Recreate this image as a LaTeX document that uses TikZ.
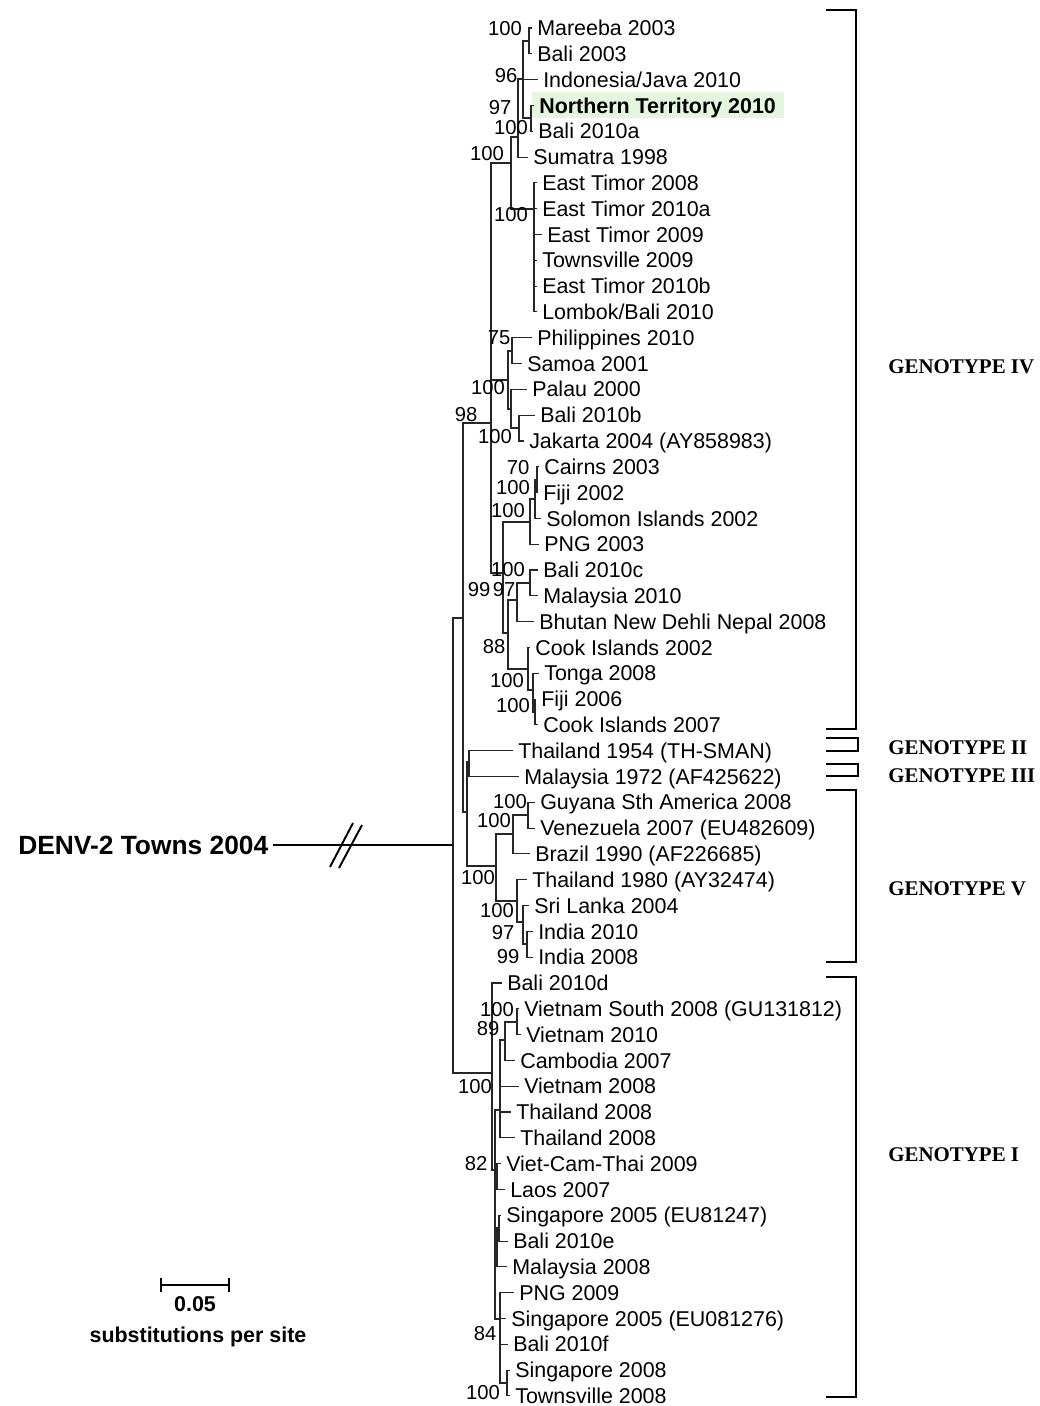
\documentclass[tikz,border=0pt]{standalone}
\usepackage{fontspec}
\setmainfont{Liberation Sans}
\newfontfamily\genofont{Liberation Serif}
\definecolor{ntgreen}{RGB}{229,246,223}

\begin{document}
\begin{tikzpicture}[x=0.02cm,y=-0.02cm,
    branch/.style={line width=0.6pt,black!85},
    leaf/.style={anchor=west,inner xsep=2.8pt,inner ysep=0pt,text height=8.7pt,text depth=0pt,font=\fontsize{12.2}{14}\selectfont},
    boot/.style={inner sep=0pt,text height=8.2pt,text depth=0pt,font=\fontsize{11.5}{13}\selectfont},
    geno/.style={anchor=west,inner sep=0pt,text height=7.9pt,text depth=0pt,font=\genofont\bfseries\fontsize{11.9}{14}\selectfont},
    bracket/.style={line width=1.2pt}]
    \useasboundingbox (0,0) rectangle (1039,1406);

    \fill[ntgreen] (532,92) rectangle (784,118);

    % genotype IV
    \node[leaf] (l1) at (532,28.0) {Mareeba 2003};
    \node[leaf] (l2) at (532,53.8) {Bali 2003};
    \node[leaf] (l3) at (538,79.6) {Indonesia/Java 2010};
    \node[leaf] (l4) at (534,105.4) {\bfseries Northern Territory 2010};
    \node[leaf] (l5) at (533,131.2) {Bali 2010a};
    \node[leaf] (l6) at (528,157.1) {Sumatra 1998};
    \node[leaf] (l7) at (537,182.9) {East Timor 2008};
    \node[leaf] (l8) at (537,208.7) {East Timor 2010a};
    \node[leaf] (l9) at (542,234.5) {East Timor 2009};
    \node[leaf] (l10) at (537,260.3) {Townsville 2009};
    \node[leaf] (l11) at (537,286.1) {East Timor 2010b};
    \node[leaf] (l12) at (537,311.9) {Lombok/Bali 2010};
    \node[leaf] (l13) at (532,337.7) {Philippines 2010};
    \node[leaf] (l14) at (522,363.5) {Samoa 2001};
    \node[leaf] (l15) at (527,389.3) {Palau 2000};
    \node[leaf] (l16) at (535,415.2) {Bali 2010b};
    \node[leaf] (l17) at (524,441.0) {Jakarta 2004 (AY858983)};
    \node[leaf] (l18) at (539,466.8) {Cairns 2003};
    \node[leaf] (l19) at (538,492.6) {Fiji 2002};
    \node[leaf] (l20) at (541,518.4) {Solomon Islands 2002};
    \node[leaf] (l21) at (539,544.2) {PNG 2003};
    \node[leaf] (l22) at (538,570.0) {Bali 2010c};
    \node[leaf] (l23) at (538,595.8) {Malaysia 2010};
    \node[leaf] (l24) at (534,621.6) {Bhutan New Dehli Nepal 2008};
    \node[leaf] (l25) at (530,647.4) {Cook Islands 2002};
    \node[leaf] (l26) at (539,673.3) {Tonga 2008};
    \node[leaf] (l27) at (536,699.1) {Fiji 2006};
    \node[leaf] (l28) at (538,724.9) {Cook Islands 2007};
    % genotypes II and III
    \node[leaf] (l29) at (513,750.7) {Thailand 1954 (TH-SMAN)};
    \node[leaf] (l30) at (519,776.5) {Malaysia 1972 (AF425622)};
    % genotype V
    \node[leaf] (l31) at (535,802.3) {Guyana Sth America 2008};
    \node[leaf] (l32) at (535,828.1) {Venezuela 2007 (EU482609)};
    \node[leaf] (l33) at (530,853.9) {Brazil 1990 (AF226685)};
    \node[leaf] (l34) at (527,879.7) {Thailand 1980 (AY32474)};
    \node[leaf] (l35) at (529,905.5) {Sri Lanka 2004};
    \node[leaf] (l36) at (533,931.4) {India 2010};
    \node[leaf] (l37) at (533,957.2) {India 2008};
    % genotype I
    \node[leaf] (l38) at (502,983.0) {Bali 2010d};
    \node[leaf] (l39) at (519,1008.8) {Vietnam South 2008 (GU131812)};
    \node[leaf] (l40) at (521,1034.6) {Vietnam 2010};
    \node[leaf] (l41) at (515,1060.4) {Cambodia 2007};
    \node[leaf] (l42) at (519,1086.2) {Vietnam 2008};
    \node[leaf] (l43) at (511,1112.0) {Thailand 2008};
    \node[leaf] (l44) at (515,1137.8) {Thailand 2008};
    \node[leaf] (l45) at (501,1163.6) {Viet-Cam-Thai 2009};
    \node[leaf] (l46) at (505,1189.5) {Laos 2007};
    \node[leaf] (l47) at (501,1215.3) {Singapore 2005 (EU81247)};
    \node[leaf] (l48) at (508,1241.1) {Bali 2010e};
    \node[leaf] (l49) at (507,1266.9) {Malaysia 2008};
    \node[leaf] (l50) at (514,1292.7) {PNG 2009};
    \node[leaf] (l51) at (506,1318.5) {Singapore 2005 (EU081276)};
    \node[leaf] (l52) at (508,1344.3) {Bali 2010f};
    \node[leaf] (l53) at (510,1370.1) {Singapore 2008};
    \node[leaf] (l54) at (510,1395.9) {Townsville 2008};

    % internal nodes
    \coordinate (a1) at (529,41);
    \coordinate (a2) at (531,118);
    \coordinate (a3) at (523,79);
    \coordinate (a4) at (518,137);
    \coordinate (a5) at (534,209);
    \coordinate (a6) at (511,163);
    \coordinate (b1) at (512,351);
    \coordinate (b2) at (519,428);
    \coordinate (b3) at (511,409);
    \coordinate (b4) at (508,380);
    \coordinate (c1) at (537,480);
    \coordinate (c2) at (535,499);
    \coordinate (c3) at (530,522);
    \coordinate (c4) at (530,583);
    \coordinate (c5) at (517,600);
    \coordinate (c6a) at (535,712);
    \coordinate (c6) at (533,690);
    \coordinate (c7) at (528,669);
    \coordinate (c8) at (508,633);
    \coordinate (c9) at (503,573);
    \coordinate (d1) at (491,423);
    \coordinate (e1) at (469,762);
    \coordinate (f1) at (528,815);
    \coordinate (f2) at (513,834);
    \coordinate (f3) at (527,944);
    \coordinate (f4) at (523,922);
    \coordinate (f5) at (517,901);
    \coordinate (f6) at (496,866);
    \coordinate (e2) at (467,812);
    \coordinate (top) at (463,618);
    \coordinate (g1) at (517,1022);
    \coordinate (g2) at (505,1040);
    \coordinate (g3) at (500,1110);
    \coordinate (g4) at (497,1177);
    \coordinate (g5) at (499,1228);
    \coordinate (g6) at (497,1248);
    \coordinate (g7) at (507,1383);
    \coordinate (g8) at (500,1319);
    \coordinate (g9) at (495,1170);
    \coordinate (g10) at (492,1073);
    \coordinate (root) at (453,845);

    \foreach \p/\c in {a1/l1.west,a1/l2.west,a2/l4.west,a2/l5.west,a3/a1,a3/l3.west,a3/a2,
        a4/a3,a4/l6.west,a5/l7.west,a5/l8.west,a5/l9.west,a5/l10.west,a5/l11.west,a5/l12.west,
        a6/a4,a6/a5,b1/l13.west,b1/l14.west,b2/l16.west,b2/l17.west,b3/l15.west,b3/b2,b4/b1,b4/b3,
        c1/l18.west,c1/l19.west,c2/c1,c2/l20.west,c3/c2,c3/l21.west,c4/l22.west,c4/l23.west,
        c5/c4,c5/l24.west,c6a/l27.west,c6a/l28.west,c6/l26.west,c6/c6a,c7/l25.west,c7/c6,
        c8/c5,c8/c7,c9/c3,c9/c8,d1/a6,d1/b4,d1/c9,
        e1/l29.west,e1/l30.west,f1/l31.west,f1/l32.west,f2/f1,f2/l33.west,f3/l36.west,f3/l37.west,
        f4/l35.west,f4/f3,f5/l34.west,f5/f4,f6/f2,f6/f5,e2/e1,e2/f6,top/d1,top/e2,
        g1/l39.west,g1/l40.west,g2/g1,g2/l41.west,g3/g2,g3/l42.west,g3/l43.west,g3/l44.west,
        g4/l45.west,g4/l46.west,g5/l47.west,g5/l48.west,g6/g5,g6/l49.west,g7/l53.west,g7/l54.west,
        g8/l50.west,g8/l51.west,g8/l52.west,g8/g7,g9/g3,g9/g4,g9/g6,g9/g8,g10/l38.west,g10/g9,
        root/top,root/g10}
        \draw[branch] (\p) |- (\c);

    % bootstrap values
    \node[boot] (bs1) at (505,28) {100};
    \node[boot] (bs2) at (506,75) {96};
    \node[boot] (bs3) at (500,107) {97};
    \node[boot] (bs4) at (511,127) {100};
    \node[boot] (bs5) at (487,153) {100};
    \node[boot] (bs6) at (511,214) {100};
    \node[boot] (bs7) at (499,337) {75};
    \node[boot] (bs8) at (488,387) {100};
    \node[boot] (bs9) at (466,414) {98};
    \node[boot] (bs10) at (495,436) {100};
    \node[boot] (bs11) at (518,467) {70};
    \node[boot] (bs12) at (513,487) {100};
    \node[boot] (bs13) at (508,510) {100};
    \node[boot] (bs14) at (508,569) {100};
    \node[boot] (bs15) at (479,589) {99};
    \node[boot] (bs16) at (504,589) {97};
    \node[boot] (bs17) at (494,646) {88};
    \node[boot] (bs18) at (507,680) {100};
    \node[boot] (bs19) at (513,705) {100};
    \node[boot] (bs20) at (510,801) {100};
    \node[boot] (bs21) at (494,820) {100};
    \node[boot] (bs22) at (478,877) {100};
    \node[boot] (bs23) at (497,910) {100};
    \node[boot] (bs24) at (503,932) {97};
    \node[boot] (bs25) at (508,956) {99};
    \node[boot] (bs26) at (497,1009) {100};
    \node[boot] (bs27) at (488,1028) {89};
    \node[boot] (bs28) at (475,1086) {100};
    \node[boot] (bs29) at (476,1163) {82};
    \node[boot] (bs30) at (485,1333) {84};
    \node[boot] (bs31) at (483,1392) {100};

    % outgroup
    \node[anchor=east,inner xsep=2.5pt,inner ysep=0pt,text height=10.7pt,text depth=0pt,
        font=\bfseries\fontsize{15}{18}\selectfont] (og) at (273,845) {DENV-2 Towns 2004};
    \draw[line width=1.6pt] (og.east) -- (root);
    \draw[line width=1.1pt] (330,867) -- (353,823) (339,868) -- (362,825);

    % genotype brackets
    \draw[bracket] (826,10) -| (856,729) -- (826,729);
    \draw[bracket] (826,738) -| (858,751) -- (826,751);
    \draw[bracket] (826,764) -| (858,776) -- (826,776);
    \draw[bracket] (826,790) -| (856,962) -- (826,962);
    \draw[bracket] (826,977) -| (856,1397) -- (826,1397);
    \node[geno] (gIV) at (888,367) {GENOTYPE IV};
    \node[geno] (gII) at (888,748) {GENOTYPE II};
    \node[geno] (gIII) at (888,776) {GENOTYPE III};
    \node[geno] (gV) at (888,889) {GENOTYPE V};
    \node[geno] (gI) at (888,1155) {GENOTYPE I};

    % scale bar
    \coordinate (sbl) at (161,1285);
    \coordinate (sbr) at (229,1285);
    \draw[line width=0.8pt] (sbl) -- (sbr);
    \draw[line width=0.8pt] ([yshift=4pt]sbl) -- ([yshift=-4pt]sbl);
    \draw[line width=0.8pt] ([yshift=4pt]sbr) -- ([yshift=-4pt]sbr);
    \node[font=\bfseries\fontsize{12.2}{14}\selectfont] (sbv) at (195,1304) {0.05};
    \node[font=\bfseries\fontsize{12.2}{14}\selectfont] (sbt) at (198,1337) {substitutions per site};
\end{tikzpicture}
\end{document}
